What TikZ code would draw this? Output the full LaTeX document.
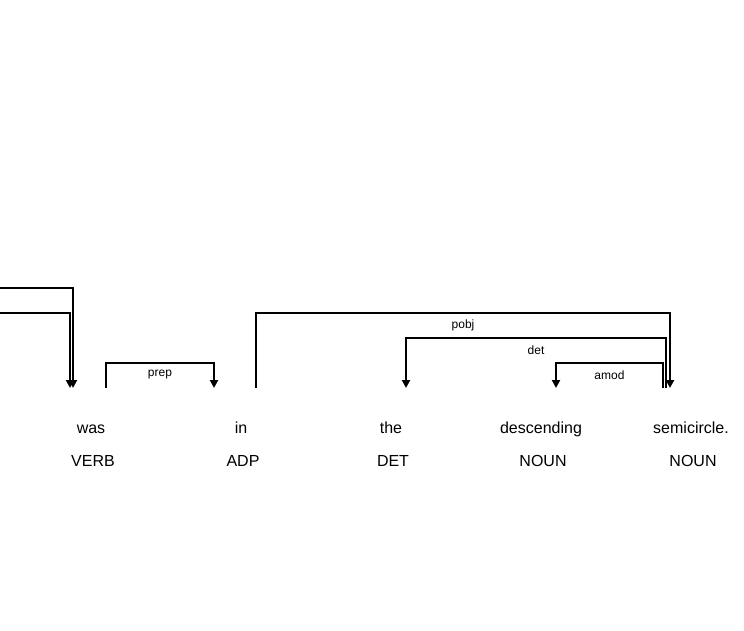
\documentclass[tikz,border=0pt]{standalone}
\usepackage{fontspec}
\setmainfont{Liberation Sans}
\usetikzlibrary{arrows.meta}
\begin{document}
\begin{tikzpicture}[x=1pt, y=-1pt,
    word/.style={font=\fontsize{16}{19}\selectfont, anchor=base, inner sep=0pt},
    tag/.style={word},
    arc/.style={line width=2pt, -{Triangle[width=8pt,length=8pt]}},
    lbl/.style={font=\fontsize{12}{14}\selectfont, inner sep=0pt, yshift=-12pt}]
  \useasboundingbox (0,0) rectangle (744,631);
  % tokens and their tags
  \foreach \w/\t/\x [count=\i] in {was/VERB/91, in/ADP/241, the/DET/391,
      descending/NOUN/541, semicircle./NOUN/691} {
    \node[word] (w\i) at (\x,433) {\w};
    \node[tag] (t\i) at (\x+2,466) {\t};
    \coordinate (a\i) at (\x,388);
  }
  % arcs coming in from the left edge
  \coordinate (offA) at (0,288);
  \coordinate (offB) at (0,313);
  \draw[arc] (offA) -| ([xshift=-18pt]a1);
  \draw[arc] (offB) -| ([xshift=-21pt]a1);
  % dependencies
  \draw[arc] ([xshift=15pt]a1) -- ++(0,-25) -| node[lbl, pos=0.25] (lprep) {prep} ([xshift=-27pt]a2);
  \draw[arc] ([xshift=15pt]a2) -- ++(0,-75) -| node[lbl, pos=0.25] (lpobj) {pobj} ([xshift=-21pt]a5);
  \draw[arc] ([xshift=-25pt]a5) -- ++(0,-50) -| node[lbl, pos=0.25] (ldet) {det} ([xshift=15pt]a3);
  \draw[arc] ([xshift=-28pt]a5) -- ++(0,-25) -| node[lbl, pos=0.25] (lamod) {amod} ([xshift=15pt]a4);
\end{tikzpicture}
\end{document}
